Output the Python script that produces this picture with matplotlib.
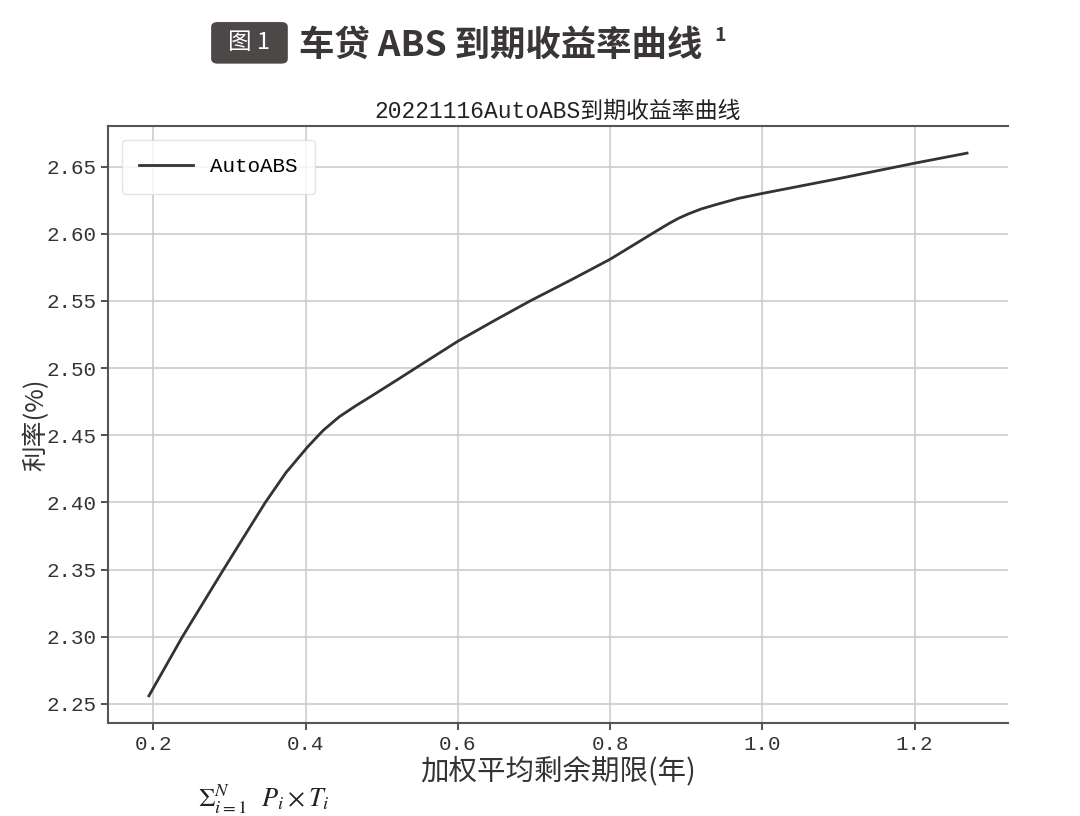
import matplotlib
matplotlib.use("Agg")
import matplotlib.pyplot as plt
from matplotlib.patches import FancyBboxPatch

plt.rcParams['font.family'] = ['Noto Sans CJK SC', 'DejaVu Sans']
plt.rcParams['axes.unicode_minus'] = False
plt.rcParams['mathtext.fontset'] = 'stix'

# data
term_years = [0.194, 0.238, 0.265, 0.292, 0.320, 0.347, 0.374, 0.4025, 0.423, 0.444,
              0.466, 0.488, 0.521, 0.55, 0.60, 0.65, 0.695, 0.75, 0.80, 0.829,
              0.855, 0.877, 0.89, 0.903, 0.92, 0.938, 0.9685, 1.0, 1.1, 1.2, 1.269]
yield_pct = [2.256, 2.300, 2.325, 2.350, 2.3755, 2.400, 2.4221, 2.4413, 2.4536, 2.4637,
             2.4720, 2.4797, 2.4915, 2.502, 2.520, 2.536, 2.550, 2.566, 2.581, 2.591,
             2.600, 2.6075, 2.6115, 2.6148, 2.6185, 2.6215, 2.6263, 2.630, 2.641, 2.6525, 2.660]
x_ticks = [0.2, 0.4, 0.6, 0.8, 1.0, 1.2]
y_ticks = [2.25, 2.30, 2.35, 2.40, 2.45, 2.50, 2.55, 2.60, 2.65]

mono_cjk = ['Liberation Mono', 'Noto Sans CJK SC']

fig = plt.figure(figsize=(10.8, 8.16), dpi=100)
fig.patch.set_facecolor("white")

# header badge + heading
badge = FancyBboxPatch((0.1955, 0.922), 0.071, 0.051, boxstyle="round,pad=0,rounding_size=0.006",
                       transform=fig.transFigure, facecolor="#4d4848", edgecolor="none")
fig.patches.append(badge)
fig.text(0.231, 0.948, "图 1", color="white", fontsize=17, ha="center", va="center")
fig.text(0.277, 0.945, "车贷 ABS 到期收益率曲线", color="#3a3636", fontsize=25.5,
         fontweight="bold", ha="left", va="center")
fig.text(0.661, 0.957, "1", color="#3a3636", fontsize=14, fontweight="bold",
         ha="left", va="center")

ax = fig.add_axes([0.1, 0.114, 0.8333, 0.7316])
ax.plot(term_years, yield_pct, color="#333333", lw=2, label="AutoABS")
ax.set_xticks(x_ticks)
ax.set_yticks(y_ticks)
ax.set_xticklabels([f"{v:.1f}" for v in x_ticks], family="Liberation Mono")
ax.set_yticklabels([f"{v:.2f}" for v in y_ticks], family="Liberation Mono")
ax.tick_params(labelsize=15, colors="#333333", length=5, width=1.2)
ax.grid(True, color="#cccccc", lw=1.2)
for s in ["left", "top", "bottom"]:
    ax.spines[s].set_color("#555555")
    ax.spines[s].set_linewidth(1.5)
ax.spines["right"].set_visible(False)

ax.set_title("20221116AutoABS到期收益率曲线", fontsize=16.5, color="#222222", pad=6,
             family=mono_cjk)
ax.set_xlabel("加权平均剩余期限(年)", fontsize=20.5, color="#333333", labelpad=2)
ax.set_ylabel("利率(%)", fontsize=18.5, color="#333333", labelpad=-2)
leg = ax.legend(loc="upper left", handlelength=2.6, handletextpad=0.8, borderpad=0.85,
                borderaxespad=0.65, prop={"family": "Liberation Mono", "size": 15})
leg.get_frame().set_edgecolor("#dddddd")

# formula fragment at the bottom edge
fig.text(0.183, 0.0, r"$\Sigma_{i=1}^{N}\ \ P_i \times T_i$", fontsize=19, color="#222222",
         ha="left", va="bottom")

fig.savefig("out.png", dpi=100)
